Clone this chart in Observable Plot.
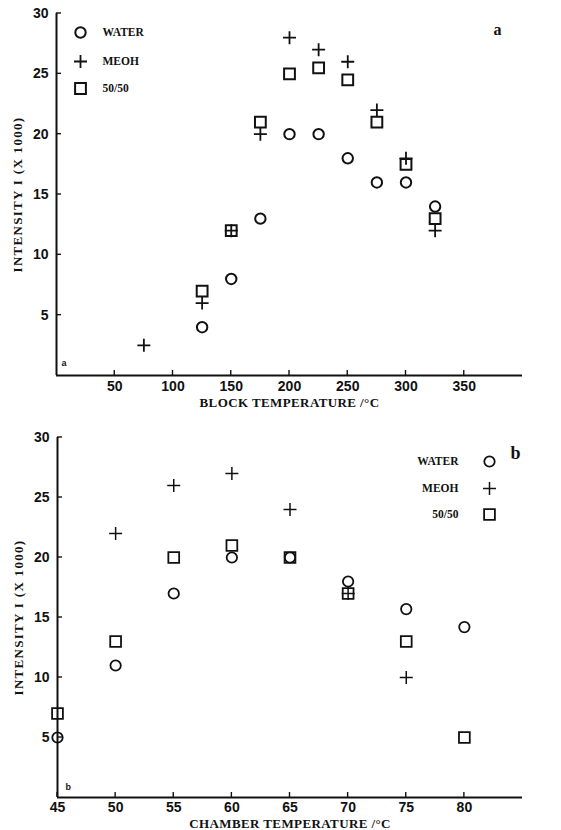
<!DOCTYPE html>
<html><head><meta charset="utf-8">
<script src="https://cdn.jsdelivr.net/npm/d3@7"></script>
<script src="https://cdn.jsdelivr.net/npm/@observablehq/plot@0.6"></script>
<style>
html,body{margin:0;padding:0;background:#fff;}
#chart{width:561px;height:830px;position:relative;}
#chart svg{display:block;}
</style></head><body><div id="chart"></div>
<script>
// ---- Panel a: block temperature ----
const blockTemps = [75, 125, 150, 175, 200, 225, 250, 275, 300, 325];
const blockWater = [null, 4, 8, 13, 20, 20, 18, 16, 16, 14];
const blockMeoh  = [2.5, 6, 12, 20, 28, 27, 26, 22, 18, 12];
const blockMix   = [null, 7, 12, 21, 25, 25.5, 24.5, 21, 17.5, 13];
const blockTicks = [50, 100, 150, 200, 250, 300, 350];

// ---- Panel b: chamber temperature ----
const chamberTemps = [45, 50, 55, 60, 65, 70, 75, 80];
const chamberWater = [5, 11, 17, 20, 20, 18, 15.7, 14.2];
const chamberMeoh  = [null, 22, 26, 27, 24, 17, 10, null];
const chamberMix   = [7, 13, 20, 21, 20, 17, 13, 5];
const chamberTicks = [45, 50, 55, 60, 65, 70, 75, 80];

const intensityTicks = [5, 10, 15, 20, 25, 30];
const seriesNames = ["WATER", "MEOH", "50/50"];
const yTitle = "INTENSITY I (X 1000)";
const xTitleA = "BLOCK TEMPERATURE /°C";
const xTitleB = "CHAMBER TEMPERATURE /°C";

const ink = "#111";
const serif = "Liberation Serif, Times New Roman, serif";
const symSquare = {draw(c, size) { const h = Math.sqrt(size) / 2; c.rect(-h, -h, 2 * h, 2 * h); }};
const symPlus = {draw(c, size) { const h = Math.sqrt(size) / 2; c.moveTo(-h, 0); c.lineTo(h, 0); c.moveTo(0, -h); c.lineTo(0, h); }};
const rSide = s => s / Math.sqrt(Math.PI);
const tickLen = 5;

function rows(temps, vals) {
  return temps.map((t, i) => ({t, v: vals[i]})).filter(d => d.v != null);
}

function seriesStyle(name, sw) {
  if (name === "WATER") return {symbol: "circle", r: 5.2, strokeWidth: sw.c};
  if (name === "MEOH") return {symbol: symPlus, r: rSide(13), strokeWidth: sw.p};
  return {symbol: symSquare, r: rSide(10.8), strokeWidth: sw.s};
}

function panel(cfg) {
  const series = [cfg.water, cfg.meoh, cfg.mix];
  const marks = [
    Plot.ruleY([0], {stroke: ink, strokeWidth: 2}),
    Plot.ruleX([cfg.xDomain[0]], {stroke: ink, strokeWidth: 2}),
    // tick labels
    Plot.axisX(cfg.xTicks, {tickSize: 0, tickPadding: cfg.xPad, label: null}),
    Plot.axisY(intensityTicks, {tickSize: 0, tickPadding: 8, label: null}),
    Plot.text([yTitle], {frameAnchor: "left", text: d => d, rotate: -90, dx: -39, lineAnchor: "middle", textAnchor: "middle",
      fontFamily: serif, fontSize: 13, fontWeight: "bold", fill: ink}),
    Plot.text([cfg.xTitle], {frameAnchor: "bottom", text: d => d, dy: cfg.xTitleDy, lineAnchor: "middle", textAnchor: "middle",
      fontFamily: serif, fontSize: 13, fontWeight: "bold", fill: ink}),
    Plot.text([cfg.tag], {frameAnchor: "top-right", text: d => d, dx: cfg.tagDx, dy: cfg.tagDy, lineAnchor: "middle",
      fontFamily: serif, fontSize: cfg.tagSize, fontWeight: "bold", fill: ink}),
    Plot.text([cfg.tag], {frameAnchor: "bottom-left", text: d => d, dx: cfg.smallDx, dy: cfg.smallDy, lineAnchor: "middle",
      textAnchor: "start", fontFamily: "Liberation Sans, sans-serif", fontSize: 9, fontWeight: "bold", fill: ink})
  ];
  seriesNames.forEach((name, k) => {
    const st = seriesStyle(name, cfg.sw);
    marks.push(Plot.dot(rows(cfg.temps, series[k]), {x: "t", y: "v", ...st, stroke: ink, fill: "none"}));
    // legend
    marks.push(Plot.dot([name], {frameAnchor: cfg.legAnchor, dx: cfg.legSymDx, dy: cfg.legDy[k], ...st, stroke: ink, fill: "none"}));
    marks.push(Plot.text([name], {frameAnchor: cfg.legAnchor, dx: cfg.legTextDx, dy: cfg.legDy[k], text: d => d,
      lineAnchor: "middle", textAnchor: cfg.legTextAnchor, fontFamily: serif, fontSize: 11.5, fontWeight: "bold", fill: ink}));
  });
  const svg = Plot.plot({
    width: 561, height: cfg.height,
    marginTop: cfg.mt, marginBottom: cfg.mb, marginLeft: cfg.ml, marginRight: cfg.mr,
    x: {domain: cfg.xDomain, axis: null},
    y: {domain: [0, 30], axis: null},
    style: {fontFamily: "Liberation Sans, Arial, sans-serif", fontSize: "14px", fontWeight: "bold", color: ink, background: "#fff"},
    marks
  });
  // inward tick marks, placed with the plot's own scales
  const sx = svg.scale("x"), sy = svg.scale("y");
  const g = d3.select(svg).append("g").attr("stroke", ink).attr("stroke-width", 1.4);
  const x0 = sx.apply(cfg.xDomain[0]), y0 = sy.apply(0);
  cfg.xTicks.forEach(v => {
    const px = sx.apply(v);
    g.append("line").attr("x1", px).attr("x2", px).attr("y1", y0).attr("y2", y0 - tickLen);
  });
  intensityTicks.forEach(v => {
    const py = sy.apply(v);
    g.append("line").attr("x1", x0).attr("x2", x0 + tickLen).attr("y1", py).attr("y2", py);
  });
  d3.select(svg).selectAll("text").each(function() {
    const t = this.textContent;
    if (t === yTitle) this.style.letterSpacing = "1.3px";
    if (t === cfg.xTitle) this.style.letterSpacing = "0.4px";
  });
  return svg;
}

const chart = document.getElementById("chart");
chart.append(panel({
  temps: blockTemps, water: blockWater, meoh: blockMeoh, mix: blockMix,
  xDomain: [0, 400], xTicks: blockTicks, xTitle: xTitleA, xTitleDy: 27, xPad: 6,
  height: 415, mt: 13, mb: 40, ml: 56, mr: 39,
  tag: "a", tagDx: -21, tagDy: 16, tagSize: 16, smallDx: 5, smallDy: -12,
  sw: {c: 2, p: 1.8, s: 2},
  legAnchor: "top-left", legSymDx: 24, legTextDx: 46, legTextAnchor: "start", legDy: [19, 48, 75]
}));
chart.append(panel({
  temps: chamberTemps, water: chamberWater, meoh: chamberMeoh, mix: chamberMix,
  xDomain: [45, 85], xTicks: chamberTicks, xTitle: xTitleB, xTitleDy: 26, xPad: 5,
  height: 415, mt: 22, mb: 33, ml: 57, mr: 39,
  tag: "b", tagDx: -2, tagDy: 15.5, tagSize: 18, smallDx: 8, smallDy: -10,
  sw: {c: 1.8, p: 1.5, s: 1.8},
  legAnchor: "top-right", legSymDx: -33, legTextDx: -64, legTextAnchor: "end", legDy: [24, 51, 77]
}));
</script>
</body></html>
